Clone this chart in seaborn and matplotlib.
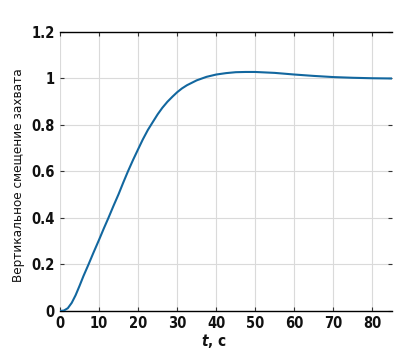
import matplotlib
matplotlib.use("Agg")
import matplotlib.pyplot as plt
import seaborn as sns
import pandas as pd

# data
t_values = [0, 1, 2, 3, 4, 5, 6, 7.3, 8.5, 10, 11.2, 12.4, 13.7, 15, 16.2, 17.4,
            18.7, 20, 21.2, 22.5, 23.8, 25, 26.2, 27.5, 28.8, 30, 31.2, 32.5, 35, 37.5,
            40, 42.5, 45, 47.5, 50, 55, 60, 65, 70, 75, 80, 85]
y_values = [0, 0.002, 0.012, 0.035, 0.068, 0.108, 0.15, 0.2, 0.248, 0.306, 0.354,
            0.4, 0.452, 0.502, 0.552, 0.6, 0.649, 0.695, 0.737, 0.778, 0.813, 0.845,
            0.873, 0.899, 0.921, 0.940, 0.956, 0.970, 0.991, 1.006, 1.016, 1.022, 1.026,
            1.027, 1.027, 1.023, 1.016, 1.01, 1.005, 1.002, 1.0, 0.999]
x_ticks = [0, 10, 20, 30, 40, 50, 60, 70, 80]
y_ticks = [0, 0.2, 0.4, 0.6, 0.8, 1.0, 1.2]
y_tick_labels = ["0", "0.2", "0.4", "0.6", "0.8", "1", "1.2"]

sns.set_style("white")
plt.rcParams["font.family"] = ["DejaVu Sans"]
plt.rcParams["font.stretch"] = "condensed"
plt.rcParams["mathtext.fontset"] = "custom"
plt.rcParams["mathtext.it"] = "DejaVu Sans:italic:bold"

df = pd.DataFrame({"t": t_values, "y": y_values})

fig = plt.figure(figsize=(4.10, 3.53), dpi=100)
ax = fig.add_axes([60 / 410, 1 - 311 / 353, 332 / 410, (311 - 31.7) / 353])

sns.lineplot(data=df, x="t", y="y", ax=ax, color="#12679f", linewidth=1.5, zorder=3)

ax.set_xlim(0, 85)
ax.set_ylim(0, 1.2)
ax.set_xticks(x_ticks)
ax.set_yticks(y_ticks)
ax.set_yticklabels(y_tick_labels)
ax.grid(True, color="#dadada", linewidth=0.8)

for s in ["left", "right"]:
    ax.spines[s].set_visible(False)
for s in ["top", "bottom"]:
    ax.spines[s].set_visible(True)
    ax.spines[s].set_color("black")
    ax.spines[s].set_linewidth(1.0)

ax.tick_params(axis="both", which="major", direction="in", length=3, width=0.8,
               color="#333333", labelsize=10.5, pad=3.6, labelcolor="#111111",
               top=True, bottom=True, left=True, right=True)
for lab in ax.get_xticklabels() + ax.get_yticklabels():
    lab.set_fontweight("bold")
    lab.set_fontstretch("condensed")

ax.set_xlabel("$t$, с", fontsize=11, fontweight="bold", va="center", color="#111111")
ax.xaxis.set_label_coords(0.464, -0.106)
ax.set_ylabel("Вертикальное смещение захвата", fontsize=9.6, va="center", color="#111111")
ax.yaxis.set_label_coords(-0.125, 0.485)

fig.savefig("out.png", dpi=100)
